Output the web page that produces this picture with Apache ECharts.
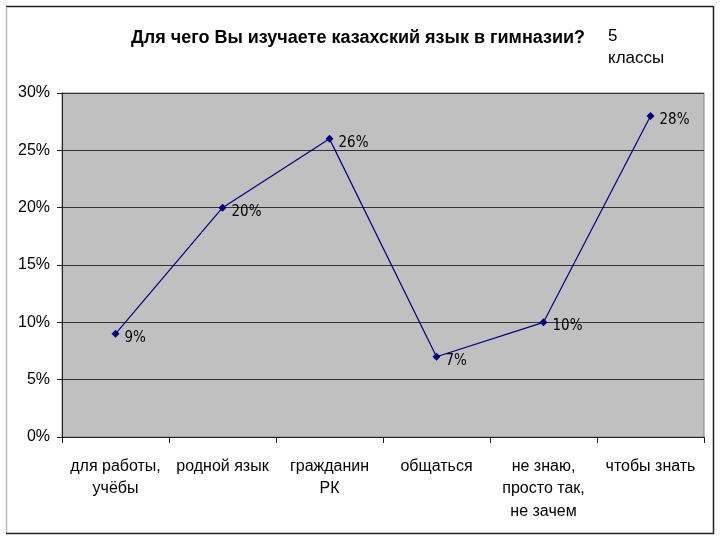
<!DOCTYPE html>
<html><head><meta charset="utf-8">
<script src="https://cdn.jsdelivr.net/npm/echarts@6/dist/echarts.min.js"></script>
<style>html,body{margin:0;padding:0;background:#fff}#c{width:720px;height:540px}</style>
</head><body><div id="c"></div>
<script>
const categories = ['для работы,\nучёбы', 'родной язык', 'гражданин\nРК', 'общаться', 'не знаю,\nпросто так,\nне зачем', 'чтобы знать'];
const values = [9, 20, 26, 7, 10, 28];
const yTicks = [0, 5, 10, 15, 20, 25, 30];
const titleText = 'Для чего Вы изучаете казахский язык в гимназии?';
const subText = '5\nклассы';

const chart = echarts.init(document.getElementById('c'));
chart.setOption({
  animation: false,
  backgroundColor: '#fff',
  title: [{
    text: titleText, left: 353, top: 24, textAlign: 'center',
    textStyle: {fontFamily: 'Liberation Sans Narrow, Liberation Sans, Arial', fontWeight: 'bold', fontSize: 18, color: '#000'}
  }, {
    text: subText, left: 603, top: 20,
    textStyle: {fontFamily: 'Liberation Sans, Arial', fontWeight: 'normal', fontSize: 17, color: '#000', lineHeight: 22}
  }],
  graphic: [
    {type: 'line', shape: {x1: 6, y1: 6.5, x2: 713, y2: 6.5}, style: {stroke: '#222', lineWidth: 1.5}},
    {type: 'line', shape: {x1: 6.5, y1: 7, x2: 6.5, y2: 533}, style: {stroke: '#bbb', lineWidth: 1.5}},
    {type: 'line', shape: {x1: 713.5, y1: 6, x2: 713.5, y2: 534}, style: {stroke: '#222', lineWidth: 1.5}},
    {type: 'line', shape: {x1: 6, y1: 533.5, x2: 714, y2: 533.5}, style: {stroke: '#222', lineWidth: 1.5}}
  ],
  grid: {left: 62, top: 93, width: 642, height: 344, show: true, backgroundColor: '#C0C0C0', borderColor: '#808080', borderWidth: 1},
  xAxis: {
    type: 'category', data: categories, boundaryGap: true,
    axisLine: {lineStyle: {color: '#222', width: 1}},
    axisTick: {show: true, length: 6, lineStyle: {color: '#222'}},
    axisLabel: {interval: 0, margin: 18, fontFamily: 'Liberation Sans Narrow, Liberation Sans, Arial', fontSize: 16, color: '#000', lineHeight: 22.5}
  },
  yAxis: {
    type: 'value', min: 0, max: 30, interval: 5,
    axisLine: {show: true, lineStyle: {color: '#222', width: 1}},
    axisTick: {show: true, length: 5, lineStyle: {color: '#222'}},
    splitLine: {show: true, lineStyle: {color: '#333', width: 1}},
    axisLabel: {formatter: v => yTicks.includes(v) ? v + '%' : '', margin: 12, fontFamily: 'Liberation Sans, Arial', fontSize: 16, color: '#000'}
  },
  series: [{
    type: 'line', data: values,
    symbol: 'diamond', symbolSize: 8,
    lineStyle: {color: '#000080', width: 1.2},
    itemStyle: {color: '#000080'},
    label: {show: true, position: 'right', distance: 5, offset: [0, 4], formatter: p => p.value + '%',
      fontFamily: 'DejaVu Sans Condensed, DejaVu Sans, Verdana', fontSize: 15, color: '#000'}
  }]
});
</script></body></html>
